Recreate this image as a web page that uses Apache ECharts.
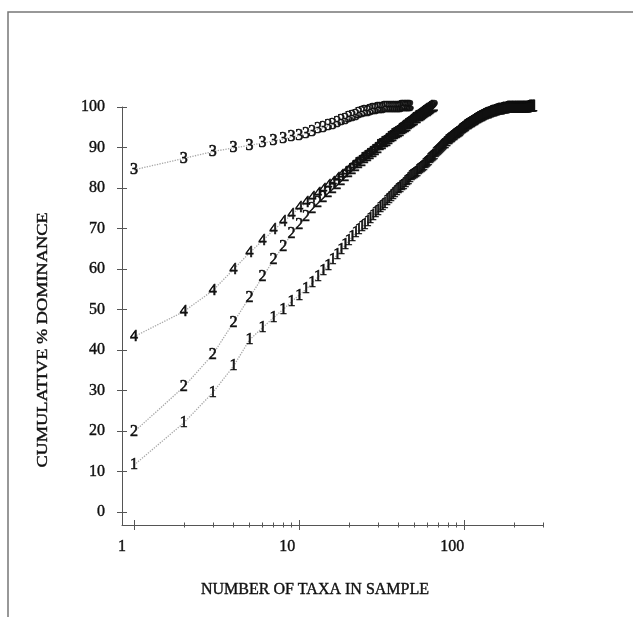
<!DOCTYPE html>
<html>
<head>
<meta charset="utf-8">
<script src="https://cdn.jsdelivr.net/npm/echarts@6/dist/echarts.min.js"></script>
<style>
  html, body { margin: 0; padding: 0; background: #fff; }
  #chart { width: 633px; height: 617px; }
</style>
</head>
<body>
<div id="chart"></div>
<script>
// cumulative % dominance, one value per taxon rank (rank 1, 2, 3 ...)
const sample1 = [
  11.6, 22, 29.5, 36, 42.5, 45.5, 48, 50, 52, 53.5,
  55, 56.5, 58, 59.5, 60.9, 62.2, 63.5, 64.7, 65.9, 67,
  68, 68.9, 69.6, 70.3, 71, 71.7, 72.4, 73.1, 73.8, 74.4,
  75, 75.6, 76.2, 76.8, 77.4, 77.9, 78.4, 78.9, 79.3, 79.7,
  80.1, 80.5, 80.9, 81.3, 81.7, 82.1, 82.5, 82.9, 83.2, 83.5,
  83.8, 84.1, 84.4, 84.7, 85, 85.3, 85.6, 85.9, 86.2, 86.5,
  86.8, 87.1, 87.4, 87.7, 88, 88.3, 88.6, 88.9, 89.2, 89.5,
  89.7, 89.9, 90.1, 90.4, 90.6, 90.8, 91, 91.3, 91.5, 91.8,
  92, 92.2, 92.4, 92.5, 92.7, 92.9, 93, 93.1, 93.3, 93.4,
  93.6, 93.7, 93.9, 94, 94.2, 94.3, 94.5, 94.6, 94.8, 94.9,
  95.1, 95.2, 95.4, 95.5, 95.6, 95.7, 95.8, 95.9, 96, 96.1,
  96.2, 96.3, 96.4, 96.5, 96.6, 96.7, 96.8, 96.9, 97, 97.1,
  97.2, 97.3, 97.3, 97.4, 97.5, 97.6, 97.6, 97.7, 97.8, 97.8,
  97.9, 98, 98, 98.1, 98.1, 98.2, 98.2, 98.3, 98.3, 98.4,
  98.4, 98.5, 98.5, 98.6, 98.6, 98.7, 98.7, 98.8, 98.8, 98.9,
  98.9, 98.9, 99, 99, 99, 99.1, 99.1, 99.1, 99.2, 99.2,
  99.2, 99.3, 99.3, 99.3, 99.3, 99.4, 99.4, 99.4, 99.4, 99.5,
  99.5, 99.5, 99.5, 99.5, 99.6, 99.6, 99.6, 99.6, 99.6, 99.6,
  99.7, 99.7, 99.7, 99.7, 99.7, 99.7, 99.7, 99.7, 99.7, 99.7,
  99.7, 99.7, 99.7, 99.7, 99.8, 99.8, 99.8, 99.8, 99.8, 99.8,
  99.8, 99.8, 99.8, 99.8, 99.8, 99.8, 99.8, 99.8, 99.8, 99.8,
  99.8, 99.8, 99.8, 99.8, 99.9, 99.9, 99.9, 99.9, 99.9, 99.9,
  99.9, 99.9, 99.9, 99.9, 99.9, 99.9, 99.9, 99.9, 99.9, 99.9,
  99.9, 99.9, 99.9, 99.9, 99.9, 99.9, 99.9, 99.9, 99.9, 99.9,
  99.9, 99.9, 99.9, 99.9, 99.9, 100, 100, 100, 100, 100,
  100, 100, 100, 100, 100, 100, 100, 100, 100, 100,
  100, 100, 100, 100, 100
];
const sample2 = [
  19.8, 30.9, 38.9, 46.8, 53, 58, 62.2, 65.6, 68.6, 71,
  73, 74.8, 76.3, 77.6, 78.8, 79.9, 80.9, 81.9, 82.8, 83.7,
  84.5, 85.2, 85.9, 86.5, 87.1, 87.7, 88.3, 88.8, 89.3, 89.8,
  90.3, 90.7, 91.1, 91.5, 91.9, 92.3, 92.7, 93.1, 93.4, 93.7,
  94, 94.3, 94.6, 94.9, 95.2, 95.5, 95.8, 96.1, 96.4, 96.7,
  97, 97.2, 97.5, 97.7, 97.9, 98.1, 98.3, 98.5, 98.7, 98.9,
  99.1, 99.3, 99.5, 99.7, 99.85, 100
];
const sample3 = [
  84.5, 87.3, 89, 89.9, 90.5, 91.1, 91.6, 92.1, 92.6, 93,
  93.5, 94, 94.5, 94.9, 95.3, 95.7, 96.1, 96.5, 96.9, 97.3,
  97.6, 97.9, 98.2, 98.5, 98.7, 98.9, 99.1, 99.3, 99.4, 99.5,
  99.6, 99.65, 99.7, 99.75, 99.8, 99.8, 99.85, 99.85, 99.9, 99.9,
  99.9, 99.95, 99.95, 99.95, 100, 100, 100
];
const sample4 = [
  43.3, 49.5, 54.7, 59.9, 64, 67, 69.6, 71.6, 73.4, 75,
  76.3, 77.5, 78.6, 79.6, 80.5, 81.4, 82.2, 83, 83.8, 84.5,
  85.2, 85.9, 86.5, 87.1, 87.7, 88.3, 88.8, 89.3, 89.8, 90.3,
  90.7, 91.2, 91.6, 92, 92.4, 92.8, 93.2, 93.6, 94, 94.3,
  94.6, 95, 95.3, 95.6, 95.9, 96.2, 96.5, 96.8, 97.1, 97.4,
  97.6, 97.9, 98.1, 98.4, 98.6, 98.8, 99, 99.2, 99.4, 99.6,
  99.8, 100
];
const sampleNames = ['1', '2', '3', '4'];

const xMajorTicks = [1, 10, 100];
const xMinorTicks = [2, 3, 4, 5, 6, 7, 8, 9, 20, 30, 40, 50, 60, 70, 80, 90, 200, 300];
const yTicks = [0, 10, 20, 30, 40, 50, 60, 70, 80, 90, 100];

const FONT = '"Liberation Serif", "DejaVu Serif", serif';
const AXIS_COLOR = '#555';
const INK = '#111';

// x is a log axis: plot log10(rank)
const xMin = Math.log10(0.845);
const xMax = Math.log10(300);
const yMin = -3.2;
const yMax = 100;

function toPoints(arr) {
  return arr.map((v, i) => [Math.log10(i + 1), v]);
}

function xAxisOf(ticks, inside, len, showLine, showLabel) {
  return {
    type: 'value',
    position: 'bottom',
    min: xMin,
    max: xMax,
    splitLine: { show: false },
    axisLine: { show: showLine, onZero: false, lineStyle: { color: AXIS_COLOR, width: 1 } },
    axisTick: {
      show: true,
      inside: inside,
      length: len,
      customValues: ticks.map(Math.log10),
      lineStyle: { color: AXIS_COLOR, width: 1 }
    },
    axisLabel: {
      show: showLabel,
      customValues: xMajorTicks.map(Math.log10),
      formatter: v => String(Math.round(Math.pow(10, v))),
      fontFamily: FONT,
      fontSize: 16,
      color: INK,
      textBorderColor: INK,
      textBorderWidth: 0.4,
      margin: 14,
      padding: [0, 24, 0, 0]
    }
  };
}

function yAxisOf(inside, showLine, showLabel) {
  return {
    type: 'value',
    position: 'left',
    min: yMin,
    max: yMax,
    splitLine: { show: false },
    axisLine: { show: showLine, onZero: false, lineStyle: { color: AXIS_COLOR, width: 1 } },
    axisTick: {
      show: true,
      inside: inside,
      length: 5,
      customValues: yTicks,
      lineStyle: { color: AXIS_COLOR, width: 1 }
    },
    axisLabel: {
      show: showLabel,
      customValues: yTicks,
      fontFamily: FONT,
      fontSize: 16,
      color: INK,
      textBorderColor: INK,
      textBorderWidth: 0.4,
      margin: 17
    }
  };
}

const myChart = echarts.init(document.getElementById('chart'));

const samples = [sample1, sample2, sample3, sample4];
const series = samples.map((arr, k) => ({
  name: sampleNames[k],
  type: 'line',
  xAxisIndex: 0,
  yAxisIndex: 0,
  data: toPoints(arr),
  symbol: 'circle',
  symbolSize: 1,
  showAllSymbol: true,
  itemStyle: { color: 'rgba(0,0,0,0)' },
  lineStyle: { color: '#a8a8a8', width: 1.3, type: 'dotted' },
  label: {
    show: true,
    position: 'inside',
    formatter: sampleNames[k],
    fontFamily: FONT,
    fontSize: 16,
    color: INK,
    textBorderColor: INK,
    textBorderWidth: 0.6
  },
  silent: true,
  animation: false
}));

myChart.setOption({
  animation: false,
  backgroundColor: '#fff',
  grid: {
    left: 122,
    right: 90,
    top: 107,
    bottom: 92,
    containLabel: false,
    outerBoundsMode: 'none'
  },
  xAxis: [
    xAxisOf(xMajorTicks, false, 5, true, true),
    xAxisOf(xMajorTicks, true, 5, false, false),
    xAxisOf(xMinorTicks, false, 2.5, false, false),
    xAxisOf(xMinorTicks, true, 2.5, false, false)
  ],
  yAxis: [
    yAxisOf(false, true, true),
    yAxisOf(true, false, false)
  ],
  graphic: [
    {
      // page frame (top and left edges)
      type: 'rect',
      shape: { x: 8, y: 12, width: 800, height: 800 },
      style: { fill: 'none', stroke: '#777', lineWidth: 1.5 },
      silent: true
    },
    {
      type: 'text',
      x: 315,
      y: 590,
      style: {
        text: 'NUMBER OF TAXA IN SAMPLE',
        font: '16px ' + FONT,
        fill: INK,
        stroke: INK,
        lineWidth: 0.4,
        align: 'center',
        verticalAlign: 'middle'
      }
    },
    {
      type: 'text',
      x: 43,
      y: 340,
      rotation: Math.PI / 2,
      scaleX: 1.22,
      style: {
        text: 'CUMULATIVE % DOMINANCE',
        font: '15px ' + FONT,
        fill: INK,
        stroke: INK,
        lineWidth: 0.4,
        align: 'center',
        verticalAlign: 'middle'
      }
    }
  ],
  series: series
});
</script>
</body>
</html>
